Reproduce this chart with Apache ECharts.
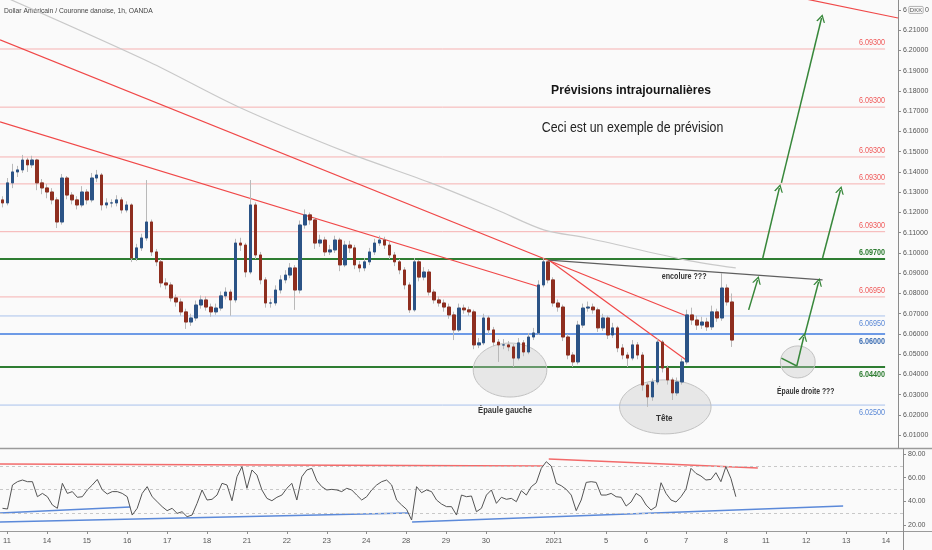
<!DOCTYPE html>
<html><head><meta charset="utf-8">
<script src="https://cdn.jsdelivr.net/npm/echarts@6/dist/echarts.min.js"></script>
<style>html,body{margin:0;padding:0;background:#fafafa}#c{width:932px;height:550px}</style>
</head><body><div id="c"></div>
<script>
// ---------------- DATA ----------------
const chartTitle = 'Dollar Américain / Couronne danoise, 1h, OANDA';
const slotCount = 181; // 3-hour slots shown on the time axis

const opens = [
6.1262,6.1247,6.1346,6.1400,6.1410,6.1459,6.1435,6.1459,6.1346,6.1321,
6.1301,6.1262,6.1153,6.1370,6.1286,6.1262,6.1237,6.1301,6.1262,6.1370,
6.1385,6.1237,6.1247,6.1247,6.1262,6.1212,6.1237,6.0975,6.1025,6.1074,
6.1153,6.1005,6.0956,6.0852,6.0842,6.0778,6.0758,6.0709,6.0659,6.0679,
6.0743,6.0768,6.0733,6.0709,6.0728,6.0788,6.0807,6.0768,6.1049,6.1039,
6.0906,6.1237,6.0990,6.0867,6.0753,6.0753,6.0817,6.0867,6.0891,6.0926,
6.0817,6.1138,6.1188,6.1163,6.1049,6.1064,6.1005,6.1015,6.1064,6.0941,
6.1039,6.1025,6.0941,6.0926,6.0956,6.1005,6.1049,6.1064,6.1039,6.0990,
6.0956,6.0916,6.0842,6.0719,6.0956,6.0881,6.0906,6.0807,6.0768,6.0753,
6.0733,6.0694,6.0620,6.0728,6.0719,6.0709,6.0546,6.0556,6.0679,6.0620,
6.0560,6.0546,6.0546,6.0536,6.0481,6.0556,6.0511,6.0585,6.0605,6.0842,
6.0956,6.0867,6.0753,6.0733,6.0585,6.0496,6.0462,6.0644,6.0728,6.0733,
6.0719,6.0630,6.0679,6.0595,6.0630,6.0531,6.0496,6.0481,6.0546,6.0496,
6.0348,6.0289,6.0363,6.0560,6.0432,6.0373,6.0309,6.0363,6.0462,6.0694,
6.0669,6.0644,6.0659,6.0635,6.0709,6.0679,6.0827,6.0758];
const closes = [
6.1247,6.1346,6.1400,6.1410,6.1459,6.1435,6.1459,6.1346,6.1321,6.1301,
6.1262,6.1153,6.1370,6.1286,6.1262,6.1237,6.1301,6.1262,6.1370,6.1385,
6.1237,6.1247,6.1247,6.1262,6.1212,6.1237,6.0975,6.1025,6.1074,6.1153,
6.1005,6.0956,6.0852,6.0842,6.0778,6.0758,6.0709,6.0659,6.0679,6.0743,
6.0768,6.0733,6.0709,6.0728,6.0788,6.0807,6.0768,6.1049,6.1039,6.0906,
6.1237,6.0990,6.0867,6.0753,6.0753,6.0817,6.0867,6.0891,6.0926,6.0817,
6.1138,6.1188,6.1163,6.1049,6.1064,6.1005,6.1015,6.1064,6.0941,6.1039,
6.1025,6.0941,6.0926,6.0956,6.1005,6.1049,6.1064,6.1039,6.0990,6.0956,
6.0916,6.0842,6.0719,6.0956,6.0881,6.0906,6.0807,6.0768,6.0753,6.0733,
6.0694,6.0620,6.0728,6.0719,6.0709,6.0546,6.0556,6.0679,6.0620,6.0560,
6.0546,6.0546,6.0536,6.0481,6.0556,6.0511,6.0585,6.0605,6.0842,6.0956,
6.0867,6.0753,6.0733,6.0585,6.0496,6.0462,6.0644,6.0728,6.0733,6.0719,
6.0630,6.0679,6.0595,6.0630,6.0531,6.0496,6.0481,6.0546,6.0496,6.0348,
6.0289,6.0363,6.0560,6.0432,6.0373,6.0309,6.0363,6.0462,6.0694,6.0669,
6.0644,6.0659,6.0635,6.0709,6.0679,6.0827,6.0758,6.0570];
const highs = [
6.1280,6.1370,6.1440,6.1430,6.1484,6.1470,6.1480,6.1465,6.1365,6.1340,
6.1320,6.1275,6.1390,6.1380,6.1300,6.1280,6.1330,6.1315,6.1395,6.1410,
6.1395,6.1270,6.1265,6.1285,6.1275,6.1255,6.1245,6.1045,6.1095,6.1360,
6.1165,6.1020,6.0970,6.0875,6.0855,6.0795,6.0775,6.0725,6.0700,6.0765,
6.0790,6.0785,6.0750,6.0750,6.0810,6.0830,6.0820,6.1070,6.1075,6.1050,
6.1360,6.1250,6.1005,6.0880,6.0775,6.0840,6.0890,6.0915,6.0950,6.0940,
6.1160,6.1215,6.1200,6.1175,6.1090,6.1080,6.1040,6.1085,6.1075,6.1060,
6.1060,6.1040,6.0960,6.0975,6.1025,6.1070,6.1085,6.1080,6.1055,6.1005,
6.0970,6.0930,6.0855,6.0975,6.0965,6.0930,6.0920,6.0820,6.0785,6.0770,
6.0750,6.0710,6.0750,6.0745,6.0735,6.0720,6.0580,6.0700,6.0690,6.0635,
6.0575,6.0575,6.0565,6.0550,6.0580,6.0570,6.0605,6.0630,6.0865,6.0975,
6.0965,6.0880,6.0770,6.0745,6.0600,6.0510,6.0665,6.0750,6.0760,6.0750,
6.0730,6.0700,6.0690,6.0655,6.0640,6.0550,6.0510,6.0570,6.0560,6.0510,
6.0360,6.0380,6.0580,6.0570,6.0445,6.0385,6.0385,6.0480,6.0720,6.0730,
6.0690,6.0685,6.0680,6.0740,6.0725,6.0901,6.0845,6.0800];
const lows = [
6.1225,6.1235,6.1320,6.1375,6.1395,6.1400,6.1420,6.1310,6.1290,6.1270,
6.1240,6.1123,6.1140,6.1265,6.1240,6.1215,6.1225,6.1240,6.1250,6.1350,
6.1210,6.1220,6.1225,6.1230,6.1195,6.1200,6.0955,6.0960,6.1010,6.1060,
6.0985,6.0935,6.0830,6.0820,6.0760,6.0735,6.0690,6.0625,6.0640,6.0665,
6.0725,6.0715,6.0685,6.0695,6.0715,6.0770,6.0690,6.0755,6.1010,6.0880,
6.0895,6.0970,6.0845,6.0730,6.0730,6.0740,6.0800,6.0850,6.0875,6.0719,
6.0800,6.1120,6.1140,6.1020,6.1030,6.0985,6.0990,6.1000,6.0910,6.0930,
6.1000,6.0920,6.0905,6.0910,6.0940,6.0990,6.1035,6.1020,6.0970,6.0935,
6.0895,6.0820,6.0704,6.0710,6.0860,6.0865,6.0790,6.0750,6.0735,6.0710,
6.0675,6.0570,6.0610,6.0700,6.0690,6.0525,6.0530,6.0545,6.0600,6.0540,
6.0462,6.0525,6.0515,6.0437,6.0470,6.0490,6.0500,6.0570,6.0595,6.0830,
6.0850,6.0735,6.0710,6.0565,6.0475,6.0437,6.0450,6.0630,6.0710,6.0700,
6.0610,6.0615,6.0575,6.0580,6.0510,6.0475,6.0437,6.0470,6.0475,6.0320,
6.0240,6.0270,6.0350,6.0410,6.0350,6.0274,6.0295,6.0350,6.0450,6.0645,
6.0620,6.0625,6.0615,6.0620,6.0660,6.0665,6.0740,6.0536];
const rsi = [
34.1,33.5,53.8,56.6,58.0,56.6,56.6,43.9,46.7,43.9,
36.9,34.1,55.2,46.7,48.2,43.4,43.9,49.6,53.8,58.5,
49.6,46.2,48.2,48.2,46.7,43.9,28.4,34.1,46.7,52.4,
43.9,39.7,35.5,32.1,34.1,29.8,31.2,27.0,28.4,38.3,
49.6,41.1,41.7,45.3,55.2,53.8,40.5,60.8,69.3,51.0,
66.5,62.2,49.6,42.5,40.5,43.4,45.3,51.0,55.2,41.1,
60.8,66.5,67.9,57.4,52.4,49.6,50.1,49.6,48.2,51.0,
49.6,45.3,41.1,43.9,49.6,53.8,56.6,58.0,53.8,41.1,
36.9,33.2,24.2,52.4,47.3,49.6,48.2,41.1,37.7,35.5,
35.5,28.4,45.3,43.9,44.5,31.2,34.1,45.3,49.6,38.3,
43.4,41.7,42.5,39.7,49.0,45.3,52.4,55.7,67.9,73.5,
69.8,55.2,53.2,50.1,45.3,32.1,41.1,56.0,56.6,56.0,
45.3,45.3,46.7,43.9,43.4,36.0,39.4,46.7,43.9,36.9,
32.7,35.5,55.7,46.7,41.1,39.4,43.9,50.1,67.9,63.6,
61.4,58.0,58.5,64.2,56.6,69.3,59.4,43.9];

// time-axis tick labels (positions in slot units)
const dayLabels = ['11','14','15','16','17','18','21','22','23','24','28','29','30','2021','5','6','7','8','11','12','13','14'];
const daySlots  = [1.4,9.4,17.4,25.5,33.5,41.5,49.5,57.5,65.5,73.4,81.4,89.4,97.4,111.0,121.5,129.5,137.5,145.5,153.5,161.6,169.6,177.6];
const priceTicks = [6.01,6.02,6.03,6.04,6.05,6.06,6.07,6.08,6.09,6.10,6.11,6.12,6.13,6.14,6.15,6.16,6.17,6.18,6.19,6.20,6.21,6.22];
const rsiTicks = [20,40,60,80];

// horizontal levels
const levelPrices = [6.2007,6.1720,6.1474,6.1341,6.1105,6.0970,6.0783,6.0689,6.0600,6.0437,6.0249];
const levelTexts  = ['6.09300','6.09300','6.09300','6.09300','6.09300','6.09700','6.06950','6.06950','6.06000','6.04400','6.02500'];
const levelKinds  = ['red','red','red','red','red','green','red','blue','blueStrong','green','blue'];
const levelEndSlot = 178.4;

// trend lines [slot, price]
const redLineA = [[0,6.2052],[138.9,6.0684]];
const redLineB = [[0,6.1647],[108.8,6.0832]];
const redLineC = [[110.6,6.0965],[138.3,6.0472]];
const redLineTop = [[161.4,6.2259],[181,6.2160]];
const neckLine = [[110.6,6.0965],[165.8,6.0867]];
const movingAvg = [[0,6.2274],[30.1,6.1943],[48.1,6.1721],[70.2,6.1494],[86.8,6.1346],[100.2,6.1212],[109.6,6.1114],[118.3,6.1074],[138.3,6.0965],[148.3,6.0926]];

// RSI trend lines [slot, rsi]
const rsiRed1 = [[0,71.5],[108.8,69.9]];
const rsiRed2 = [[110.0,75.8],[151.9,68.2]];
const rsiBlue1 = [[0,30.1],[26.1,35.2]];
const rsiBlue2 = [[0,22.5],[81.8,30.1]];
const rsiBlue3 = [[82.6,22.5],[169.0,36.0]];

// forecast arrows [from, to]
const arrowFrom = [[150.9,6.0719],[153.7,6.0970],[157.5,6.1346],[165.8,6.0975],[160.6,6.0442],[162.2,6.0595]];
const arrowTo   = [[152.7,6.0867],[157.1,6.1321],[165.6,6.2160],[169.4,6.1311],[162.0,6.0585],[165.0,6.0857]];
const plainSegFrom = [157.5,6.0481], plainSegTo = [160.6,6.0442];

// annotations
const annoTexts  = ['Prévisions intrajournalières','Ceci est un exemple de prévision','encolure ???','Épaule gauche','Tête','Épaule droite ???'];
const annoSlots  = [127.2,127.5,137.9,101.8,133.9,162.4];
const annoPrices = [6.1805,6.1617,6.0881,6.0220,6.0180,6.0314];
const ellipseSlots = [102.8,134.1,160.8];
const ellipsePrices = [6.0422,6.0240,6.0462];

// ---------------- STYLE ----------------
const ellipseHalfW = [7.42,9.22,3.51];
const ellipseHalfH = [0.01333,0.01333,0.0079];
const levelLabelAbove = [true,true,true,true,true,true,true,false,false,false,false];
const FONT = "'Liberation Sans',Arial,sans-serif";
const levelStyle = {
  red:{line:'#f6b1b1', w:1, label:'#f05a5a', bold:false},
  green:{line:'#2e7d32', w:2, label:'#2e7d32', bold:true},
  blue:{line:'#a9c2ec', w:1, label:'#5a88d6', bold:false},
  blueStrong:{line:'#6d9ae6', w:2, label:'#3d6eb3', bold:true}
};
const annoStyle = [
  {fontSize:13.5, fontWeight:'bold', color:'#151515', sx:0.9},
  {fontSize:14, fontWeight:'normal', color:'#222', sx:0.88},
  {fontSize:8.5, fontWeight:'bold', color:'#333', sx:0.84},
  {fontSize:8.5, fontWeight:'bold', color:'#333', sx:0.9},
  {fontSize:8.5, fontWeight:'bold', color:'#333', sx:0.95},
  {fontSize:8.5, fontWeight:'bold', color:'#333', sx:0.8}
];

// ---------------- BUILD ----------------
const categories = Array.from({length: slotCount}, (_, i) => String(i));
const candleFull = closes.map((c, i) => [opens[i], c, lows[i], highs[i]]);
const candleBody = closes.map((c, i) => [opens[i], c, Math.min(opens[i], c), Math.max(opens[i], c)]);

// generic text layer anchored in data coordinates
function textSeries(items, z){
  return {
    type:'custom', xAxisIndex:1, yAxisIndex:0, silent:true, z, animation:false, clip:false,
    data: items.map((it, i) => [it.pos[0], it.pos[1], i]),
    renderItem(params, api){
      const it = items[api.value(2)];
      const c = api.coord([api.value(0), api.value(1)]);
      return {type:'text', x:c[0], y:c[1] + (it.dy || 0), scaleX:it.sx || 1, scaleY:1,
        style:{text:it.text, fill:it.color, fontSize:it.fontSize, fontWeight:it.fontWeight || 'normal',
          fontFamily:FONT, align:it.align || 'center', verticalAlign:it.vAlign || 'middle'}};
    }
  };
}

const series = [];
levelPrices.forEach((p, i) => {
  const st = levelStyle[levelKinds[i]];
  series.push({
    type:'line', xAxisIndex:1, yAxisIndex:0, symbol:'none', silent:true, z:2, animation:false,
    lineStyle:{color:st.line, width:st.w}, data:[[0,p],[levelEndSlot,p]]
  });
});
series.push(textSeries(levelPrices.map((p, i) => {
  const st = levelStyle[levelKinds[i]];
  return {pos:[levelEndSlot, p], text:levelTexts[i], color:st.label, fontSize:8.6,
    fontWeight: st.bold ? 'bold' : 'normal', align:'right',
    vAlign: levelLabelAbove[i] ? 'bottom' : 'top', dy: levelLabelAbove[i] ? -2 : 3, sx:0.84};
}), 9));

function tline(data, color, width, z, xi, yi, smooth){
  return {type:'line', xAxisIndex:xi, yAxisIndex:yi, data, symbol:'none', silent:true, animation:false,
    z, smooth: smooth || false, lineStyle:{color, width}};
}
series.push(tline(movingAvg, '#c9c9c9', 1.2, 3, 1, 0, 0.3));
series.push(tline(redLineA, '#f04848', 1.2, 4, 1, 0));
series.push(tline(redLineB, '#f04848', 1.2, 4, 1, 0));
series.push(tline(redLineC, '#f04848', 1.2, 4, 1, 0));
series.push(tline(redLineTop, '#f04848', 1.2, 4, 1, 0));
series.push(tline(neckLine, '#5f5f5f', 1.2, 4, 1, 0));

series.push({
  type:'custom', xAxisIndex:1, yAxisIndex:0, silent:true, z:3, animation:false,
  data: ellipseSlots.map((s, i) => [s, ellipsePrices[i], ellipseHalfW[i], ellipseHalfH[i]]),
  renderItem(params, api){
    const c = api.coord([api.value(0), api.value(1)]);
    const sz = api.size([api.value(2), api.value(3)]);
    return {type:'ellipse', shape:{cx:c[0], cy:c[1], rx:sz[0], ry:sz[1]},
      style:{fill:'rgba(200,200,200,0.38)', stroke:'#c2c2c2', lineWidth:1}};
  }
});

series.push({
  type:'candlestick', xAxisIndex:0, yAxisIndex:0, data:candleFull, barWidth:3, z:5, silent:true, animation:false,
  itemStyle:{color:'#b9b9b9', color0:'#b9b9b9', borderColor:'#b9b9b9', borderColor0:'#b9b9b9', borderWidth:1}
});
series.push({
  type:'candlestick', xAxisIndex:0, yAxisIndex:0, data:candleBody, barWidth:3, z:6, silent:true, animation:false,
  itemStyle:{color:'#2b5386', color0:'#8e2e1f', borderColor:'#2b5386', borderColor0:'#8e2e1f', borderWidth:1}
});

const chevron = 'path://M5,0 L10,10 L8.4,10 L5,3.2 L1.6,10 L0,10 Z';
const arrowData = arrowFrom.map((f, i) => [{coord:f}, {coord:arrowTo[i]}]);
arrowData.push([{coord:plainSegFrom, symbol:'none'}, {coord:plainSegTo, symbol:'none'}]);
series.push({
  type:'line', xAxisIndex:1, yAxisIndex:0, data:[[0,6.1]], symbol:'none', lineStyle:{opacity:0}, z:7, silent:true, animation:false,
  markLine:{silent:true, animation:false, symbol:['none', chevron], symbolSize:[9,8],
    lineStyle:{color:'#37873a', width:1.5, type:'solid'}, label:{show:false}, data:arrowData}
});

series.push(textSeries(annoTexts.map((t, i) => Object.assign({pos:[annoSlots[i], annoPrices[i]], text:t}, annoStyle[i])), 8));

series.push({
  type:'line', xAxisIndex:2, yAxisIndex:1, data:rsi, symbol:'none', silent:true, z:5, animation:false,
  lineStyle:{color:'#555555', width:1},
  markLine:{silent:true, symbol:'none', animation:false, label:{show:false},
    lineStyle:{type:[3,3], color:'#c8c8c8', width:1},
    data:[{yAxis:70},{yAxis:50},{yAxis:30}]}
});
series.push(tline(rsiRed1, '#f26a6a', 1.6, 4, 3, 1));
series.push(tline(rsiRed2, '#f26a6a', 1.6, 4, 3, 1));
series.push(tline(rsiBlue1, '#5b89d9', 1.6, 4, 3, 1));
series.push(tline(rsiBlue2, '#5b89d9', 1.6, 4, 3, 1));
series.push(tline(rsiBlue3, '#5b89d9', 1.6, 4, 3, 1));

const axisGrey = '#8c8c8c';
const option = {
  backgroundColor:'#fafafa',
  animation:false,
  grid:[
    {left:0, top:0, width:903, height:448},
    {left:0, top:449, width:903, height:82}
  ],
  xAxis:[
    {type:'category', gridIndex:0, data:categories, boundaryGap:true, show:false},
    {type:'value', gridIndex:0, min:0, max:slotCount, show:false},
    {type:'category', gridIndex:1, data:categories, boundaryGap:true, show:false},
    {type:'value', gridIndex:1, min:0, max:slotCount, position:'bottom',
      splitLine:{show:false}, axisLine:{show:false, onZero:false},
      axisTick:{show:true, customValues:daySlots, length:3, lineStyle:{color:axisGrey}},
      axisLabel:{customValues:daySlots, margin:6, fontSize:7.5, color:'#555', fontFamily:FONT,
        formatter:(v) => {let k=0,b=1e9; daySlots.forEach((d,i)=>{if(Math.abs(d-v)<b){b=Math.abs(d-v);k=i;}}); return dayLabels[k];}}}
  ],
  yAxis:[
    {type:'value', gridIndex:0, position:'right', min:6.0037, max:6.2249, splitLine:{show:false},
      axisLine:{show:true, onZero:false, lineStyle:{color:axisGrey}},
      axisTick:{show:true, length:3, customValues:priceTicks, lineStyle:{color:axisGrey}},
      axisLabel:{customValues:priceTicks, margin:5, fontSize:7, color:'#555', fontFamily:FONT,
        formatter:(v) => Math.abs(v-6.22) < 1e-6 ? '6 {b|DKK} 0' : v.toFixed(5),
        rich:{b:{fontSize:6, color:'#555', borderColor:'#a0a0a0', borderWidth:0.8, borderRadius:1, padding:[1,1,0,1], fontFamily:FONT}}}},
    {type:'value', gridIndex:1, position:'right', min:14.91, max:84.23, splitLine:{show:false},
      axisLine:{show:true, onZero:false, lineStyle:{color:axisGrey}},
      axisTick:{show:true, length:3, customValues:rsiTicks, lineStyle:{color:axisGrey}},
      axisLabel:{customValues:rsiTicks, margin:5, fontSize:7, color:'#555', fontFamily:FONT,
        formatter:(v) => v.toFixed(2)}}
  ],
  graphic:[
    {type:'text', x:4, y:7, scaleX:0.84, silent:true,
      style:{text:chartTitle, fill:'#444', fontSize:8, fontFamily:FONT, verticalAlign:'top'}},
    {type:'line', shape:{x1:0, y1:448.5, x2:932, y2:448.5}, style:{stroke:'#9a9a9a', lineWidth:1.5}, silent:true},
    {type:'line', shape:{x1:0, y1:531.5, x2:932, y2:531.5}, style:{stroke:'#9a9a9a', lineWidth:1}, silent:true},
    {type:'line', shape:{x1:903.5, y1:531, x2:903.5, y2:550}, style:{stroke:axisGrey, lineWidth:1}, silent:true}
  ],
  series
};
const chart = echarts.init(document.getElementById('c'));
chart.setOption(option);
</script></body></html>
